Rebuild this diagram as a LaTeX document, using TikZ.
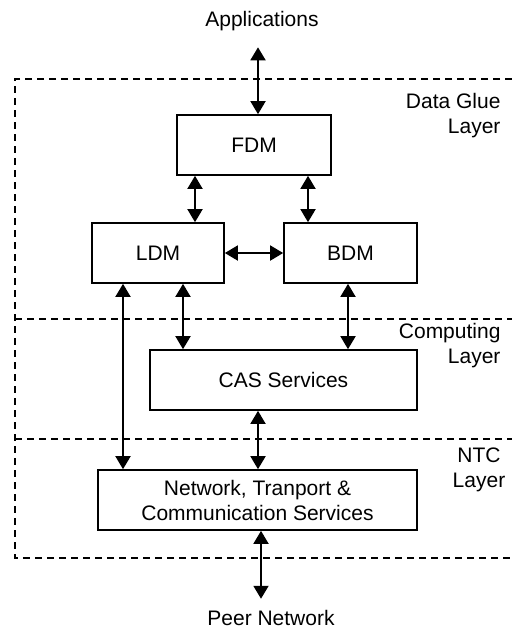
\documentclass[tikz,border=0pt]{standalone}
\usepackage{fontspec}
\setmainfont{Liberation Sans}
\usetikzlibrary{arrows.meta}
\begin{document}
\begin{tikzpicture}[x=1pt, y=-1pt, >={Triangle[width=15pt,length=13pt]},
  box/.style={draw, line width=1.7pt, minimum height=60pt, inner sep=0pt},
  link/.style={<->, line width=1.9pt},
  layer/.style={line width=1.4pt, dash pattern=on 7pt off 5pt},
  every node/.style={font=\fontsize{21}{25}\selectfont}]
  \useasboundingbox (0,0) rectangle (512,630);
  % Schichtgrenzen
  \draw[layer] (512,79) -- (15,79) -- (15,558) -- (512,558);
  \draw[layer] (15,319) -- (512,319);
  \draw[layer] (15,439) -- (512,439);
  % Schichtnamen
  \node[anchor=east, align=right] (glue) at (504,115.5) {Data Glue\\Layer};
  \node[anchor=east, align=right] (comp) at (504,345.5) {Computing\\Layer};
  \node[align=center] (ntclab) at (479,469.5) {NTC\\Layer};
  % Bausteine
  \node (apps) at (262,21) {Applications};
  \node[box, minimum width=154pt] (fdm) at (254,145) {FDM};
  \node[box, minimum width=132pt] (ldm) at (158,253) {LDM};
  \node[box, minimum width=133pt] (bdm) at (350.5,253) {BDM};
  \node[box, minimum width=267pt] (cas) at (283.5,380) {CAS Services};
  \node[box, minimum width=319pt, align=center] (ntc) at (257.5,500)
    {Network, Tranport \&\\Communication Services};
  \node (peer) at (271,618) {Peer Network};
  % Verbindungen
  \draw[link] ([xshift=-4pt,yshift=-13pt]apps.south) -- ([xshift=4pt]fdm.north);
  \draw[link] ([xshift=-59pt]fdm.south) -- ([xshift=37pt]ldm.north);
  \draw[link] ([xshift=54pt]fdm.south) -- ([xshift=-42.5pt]bdm.north);
  \draw[link] (ldm.east) -- (bdm.west);
  \draw[link] ([xshift=25pt]ldm.south) -- ([xshift=-100.5pt]cas.north);
  \draw[link] ([xshift=-2.5pt]bdm.south) -- ([xshift=64.5pt]cas.north);
  \draw[link] ([xshift=-35pt]ldm.south) -- ([xshift=-134.5pt]ntc.north);
  \draw[link] ([xshift=-25.5pt]cas.south) -- ([xshift=0.5pt]ntc.north);
  \draw[link] ([xshift=3.5pt]ntc.south) -- ([xshift=-10pt,yshift=8pt]peer.north);
\end{tikzpicture}
\end{document}
